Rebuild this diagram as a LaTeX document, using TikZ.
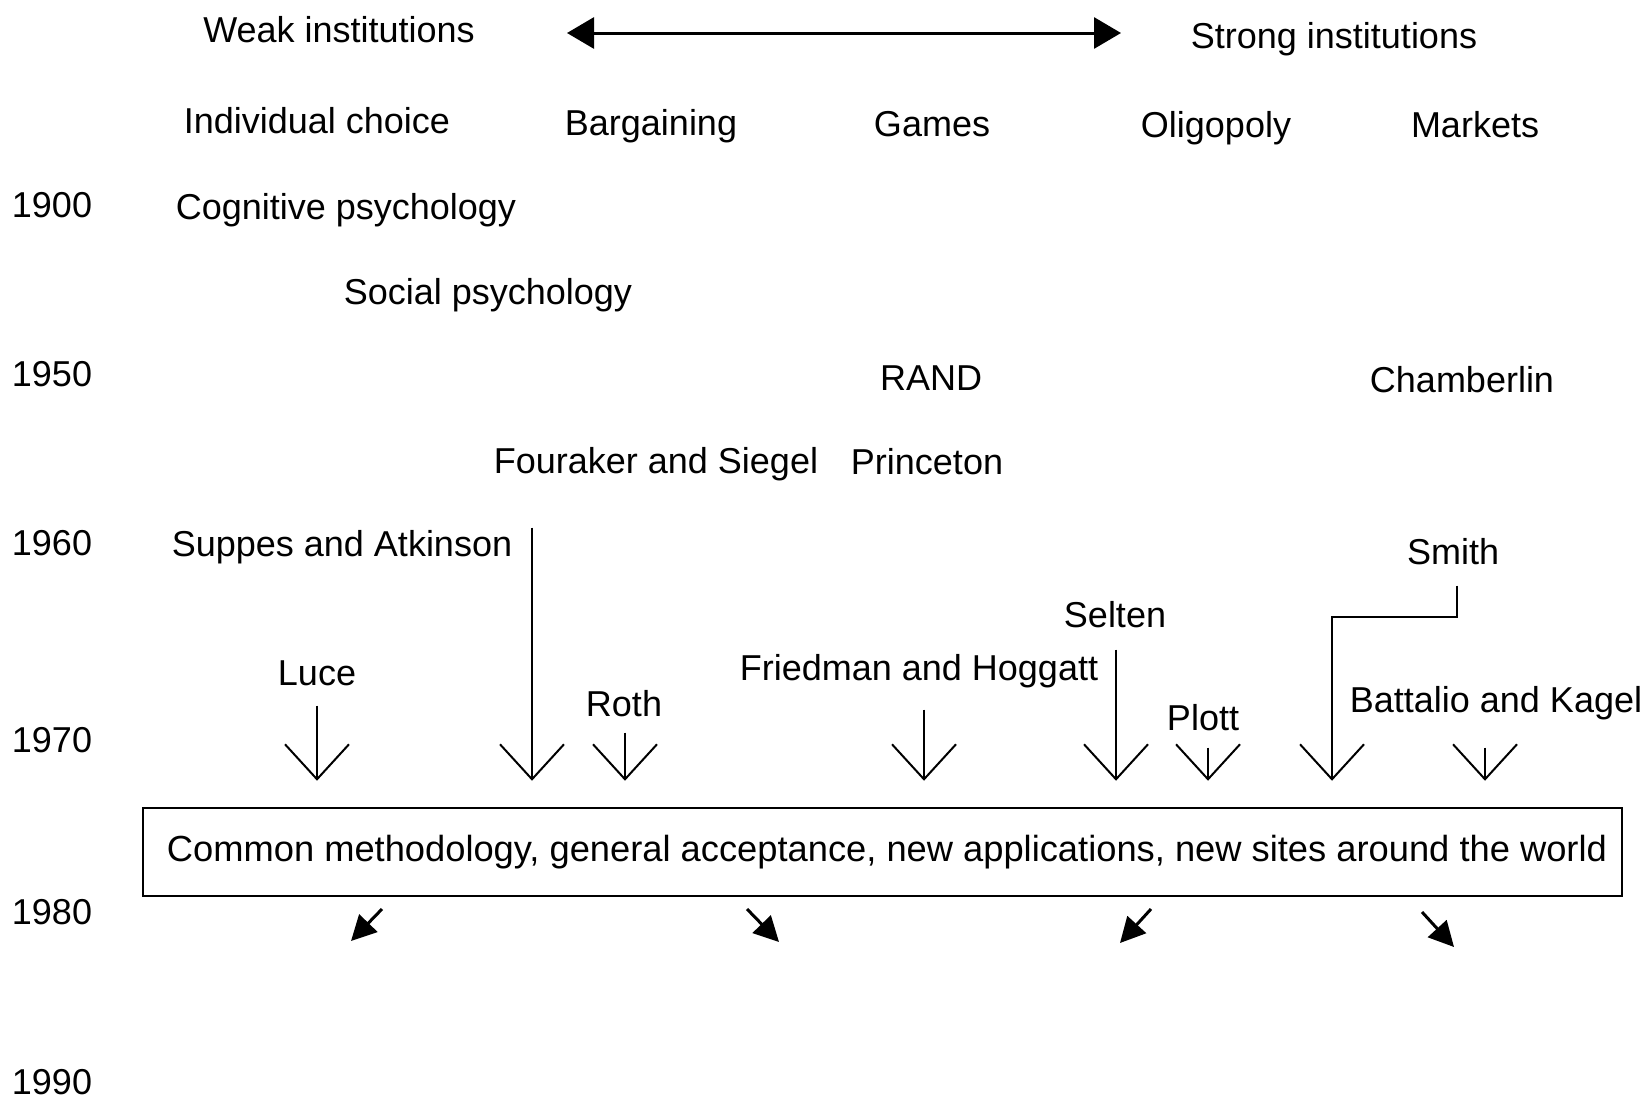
\documentclass[tikz,border=0pt]{standalone}
\usepackage{fontspec}
\setmainfont{Liberation Sans}
\usetikzlibrary{arrows.meta}
\begin{document}
\begin{tikzpicture}[x=1pt,y=-1pt,
  lab/.style={anchor=base, inner sep=0pt, font=\fontsize{36}{43}\selectfont},
  yr/.style={lab},
  varr/.style={line width=2pt, -{Straight Barb[length=35pt,width=64pt,line width=2pt]}},
  darr/.style={line width=3pt, -{Triangle[length=25pt,width=25pt]}},
  dbl/.style={line width=3pt, {Triangle[length=27pt,width=31pt]}-{Triangle[length=27pt,width=31pt]}},
  boxst/.style={draw, line width=2.5pt, minimum width=1479pt, minimum height=88pt, inner sep=0pt, font=\fontsize{36.3}{43}\selectfont}
]
\useasboundingbox (0,0) rectangle (1646,1103);
% header
\node[lab] (weak) at (339,42) {Weak institutions};
\node[lab] (strong) at (1334,48) {Strong institutions};
\coordinate (la) at (567,33);
\coordinate (ra) at (1121,33);
\draw[dbl] (la) -- (ra);
\node[lab] (indiv) at (317,133) {Individual choice};
\node[lab] (barg) at (651,135) {Bargaining};
\node[lab] (games) at (932,136) {Games};
\node[lab] (olig) at (1216,137) {Oligopoly};
\node[lab] (markets) at (1475,137) {Markets};
% years
\node[yr] (y1900) at (52,217) {1900};
\node[yr] (y1950) at (52,386) {1950};
\node[yr] (y1960) at (52,555) {1960};
\node[yr] (y1970) at (52,752) {1970};
\node[yr] (y1980) at (52,924) {1980};
\node[yr] (y1990) at (52,1094) {1990};
% contents
\node[lab] (cog) at (346,219) {Cognitive psychology};
\node[lab] (social) at (488,304) {Social psychology};
\node[lab] (rand) at (931,390) {RAND};
\node[lab] (chamb) at (1462,392) {Chamberlin};
\node[lab] (four) at (656,473) {Fouraker and Siegel};
\node[lab] (princ) at (927,474) {Princeton};
\node[lab] (suppes) at (342,556) {Suppes and Atkinson};
\node[lab] (smith) at (1453,564) {Smith};
\node[lab] (selten) at (1115,627) {Selten};
\node[lab] (luce) at (317,685) {Luce};
\node[lab] (friedman) at (919,680) {Friedman and Hoggatt};
\node[lab] (roth) at (624,716) {Roth};
\node[lab] (plott) at (1203,730) {Plott};
\node[lab] (battalio) at (1496,712) {Battalio and Kagel};
% box
\node[boxst] (box) at (882.5,852) {\hspace*{9pt}Common methodology, general acceptance, new applications, new sites around the world};
% arrows into box
\draw[varr, shorten >=26pt] ([yshift=-20pt]luce.south) -- (luce.south |- box.north);
\draw[varr, shorten >=26pt] ([xshift=-124pt,yshift=-47pt]four.south) -- ([xshift=-124pt]four.south |- box.north);
\draw[varr, shorten >=26pt] ([xshift=1pt,yshift=-16pt]roth.south) -- ([xshift=1pt]roth.south |- box.north);
\draw[varr, shorten >=26pt] ([xshift=5pt,yshift=-22pt]friedman.south) -- ([xshift=5pt]friedman.south |- box.north);
\draw[varr, shorten >=26pt] ([xshift=1pt,yshift=-22pt]selten.south) -- ([xshift=1pt]selten.south |- box.north);
\draw[varr, shorten >=26pt] ([xshift=5pt,yshift=-17pt]plott.south) -- ([xshift=5pt]plott.south |- box.north);
\draw[varr, shorten >=26pt] ([xshift=-11pt,yshift=-28pt]battalio.south) -- ([xshift=-11pt]battalio.south |- box.north);
\coordinate (sbend) at (1332,617);
\draw[varr, shorten >=26pt] ([xshift=4pt,yshift=-21pt]smith.south) |- (sbend) -- (sbend |- box.north);
% arrows out of box
\coordinate (d1s) at (382,909); \coordinate (d1e) at (351,941);
\coordinate (d2s) at (747,909); \coordinate (d2e) at (779,942);
\coordinate (d3s) at (1151,909); \coordinate (d3e) at (1120,943);
\coordinate (d4s) at (1422,912); \coordinate (d4e) at (1454,947);
\draw[darr] (d1s) -- (d1e);
\draw[darr] (d2s) -- (d2e);
\draw[darr] (d3s) -- (d3e);
\draw[darr] (d4s) -- (d4e);
\end{tikzpicture}
\end{document}
